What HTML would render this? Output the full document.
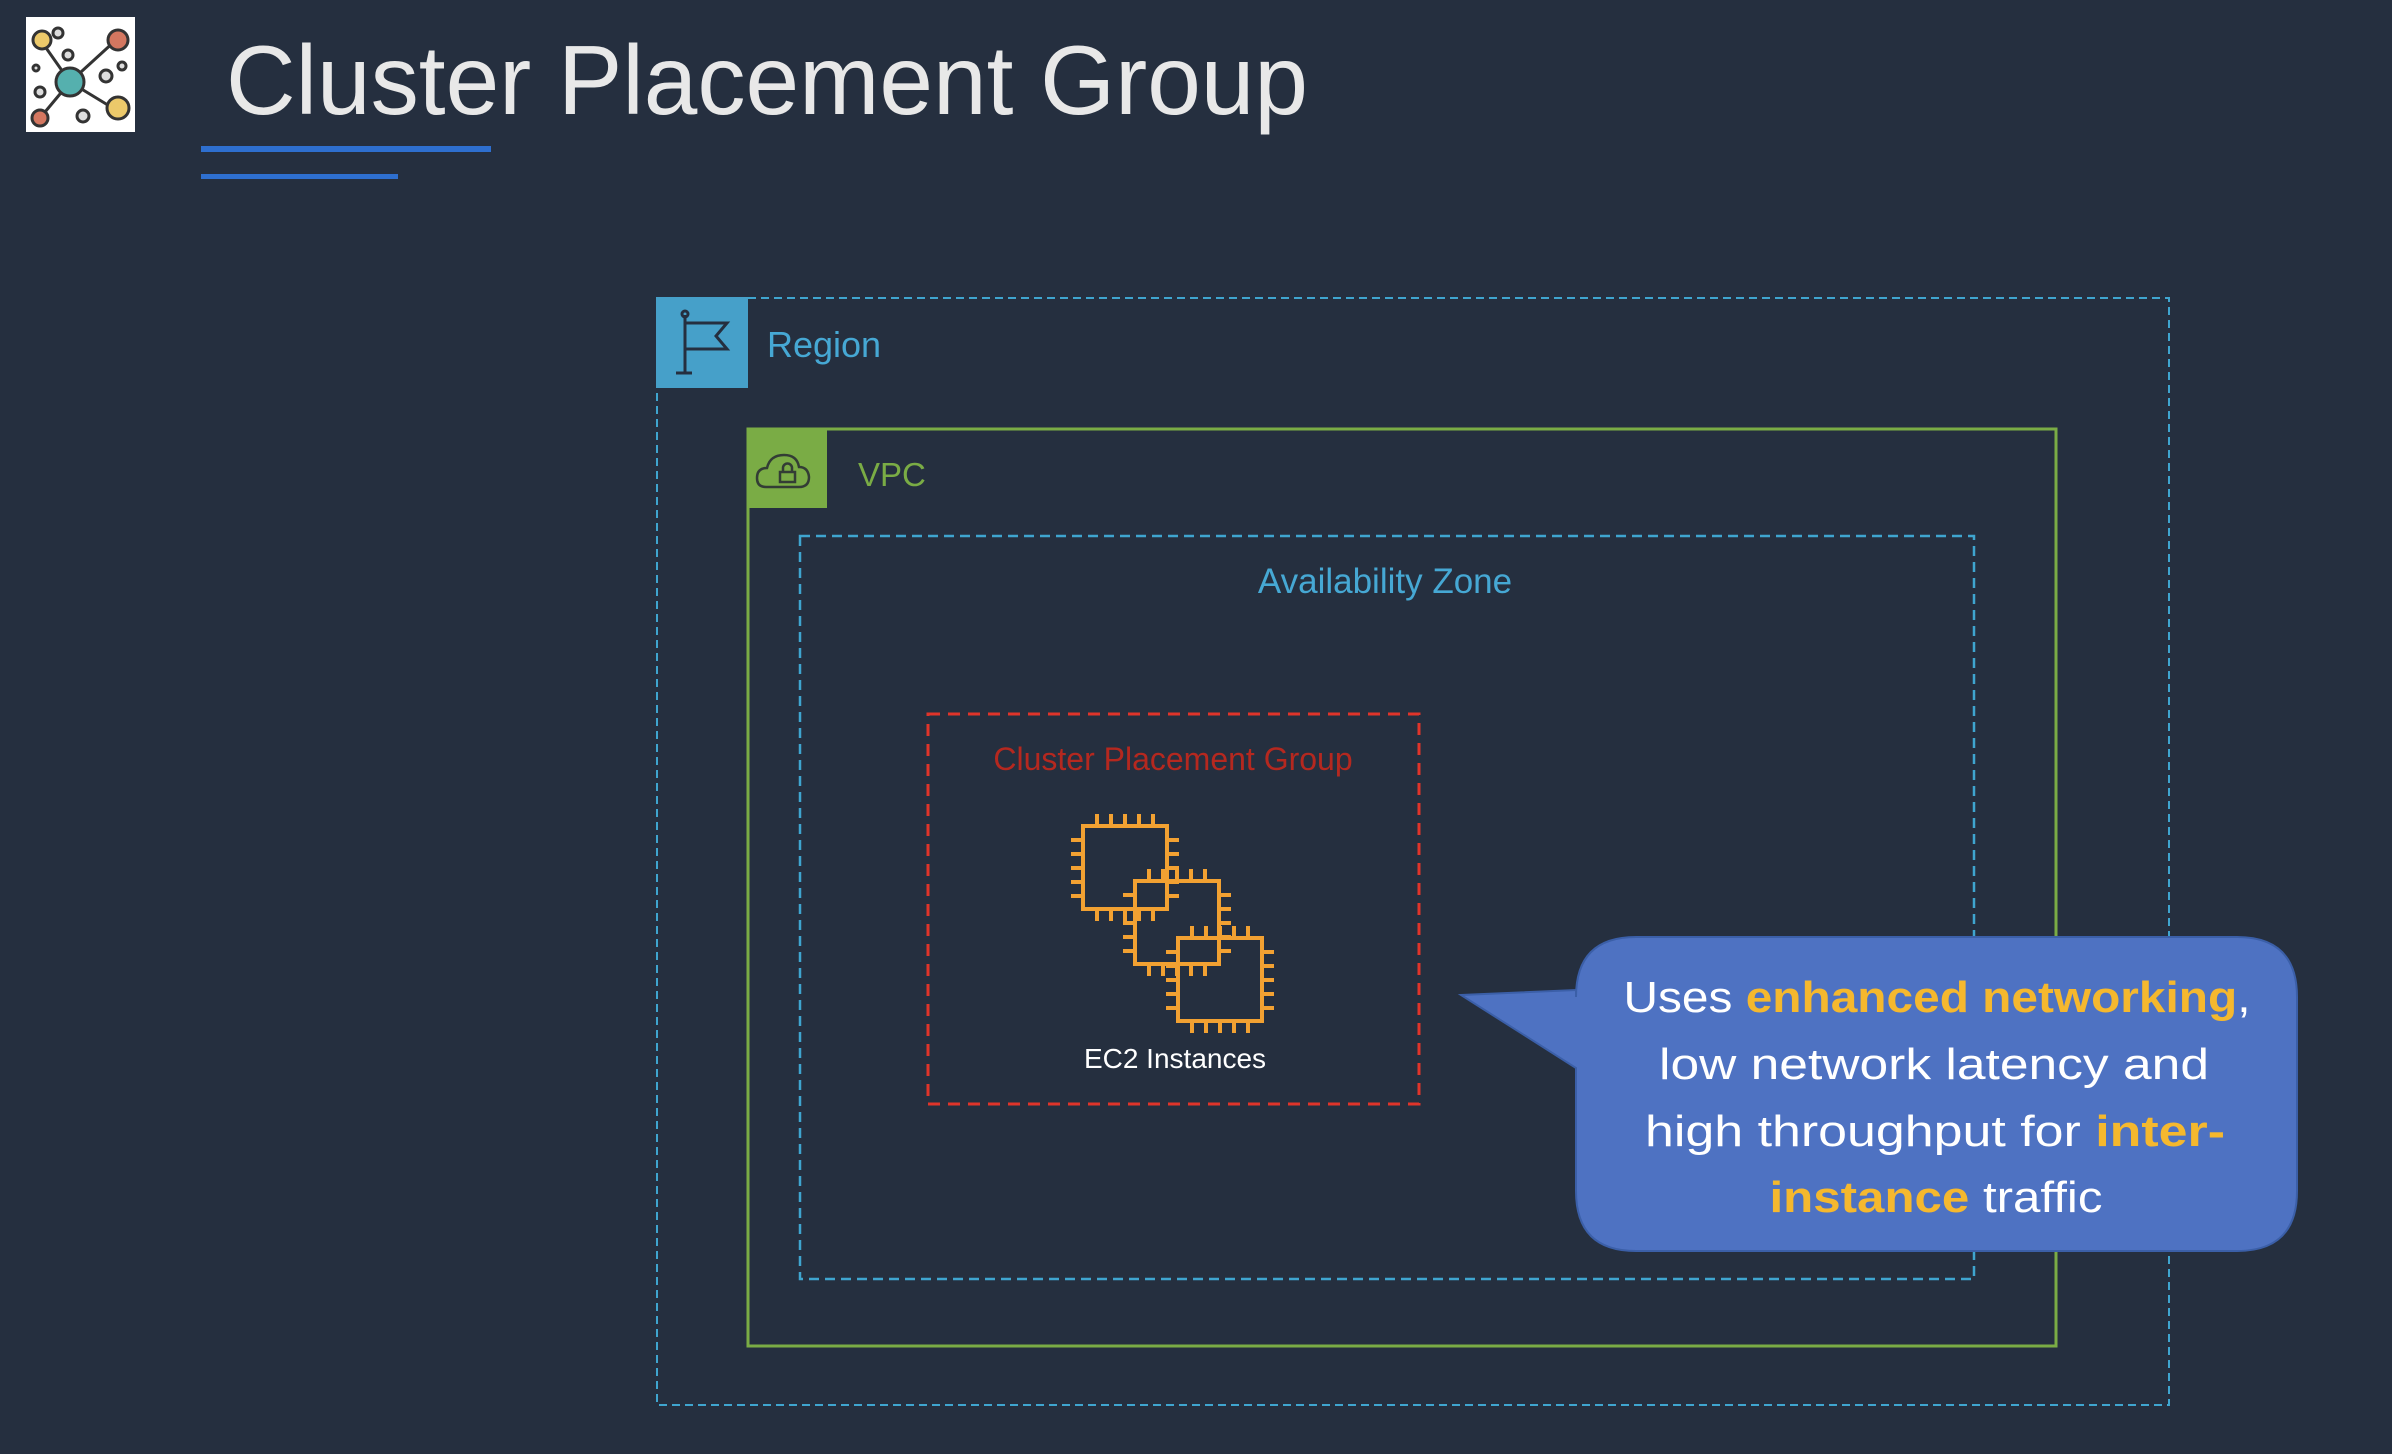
<!DOCTYPE html>
<html><head><meta charset="utf-8"><style>
html,body{margin:0;padding:0;background:#252f3f;}
svg{display:block}
</style></head><body>
<svg width="2392" height="1454" viewBox="0 0 2392 1454" xmlns="http://www.w3.org/2000/svg">
<rect width="2392" height="1454" fill="#252f3f"/>
<!-- logo -->
<rect x="26" y="17" width="109" height="115" fill="#fff"/>
<g stroke="#333" stroke-width="3">
<line x1="70" y1="82" x2="44" y2="45"/><line x1="70" y1="82" x2="116" y2="40"/><line x1="70" y1="82" x2="116" y2="110"/><line x1="70" y1="82" x2="40" y2="118"/>
<circle cx="70" cy="82" r="14" fill="#55b0ae"/>
<circle cx="42" cy="40" r="9" fill="#ecc96a"/><circle cx="118" cy="40" r="10" fill="#d47760"/>
<circle cx="118" cy="108" r="11" fill="#ecc96a"/><circle cx="40" cy="118" r="8" fill="#d47760"/>
<circle cx="58" cy="33" r="5" fill="#ddd"/><circle cx="68" cy="55" r="5" fill="#ddd"/><circle cx="36" cy="68" r="3" fill="#ddd"/>
<circle cx="40" cy="92" r="5" fill="#ddd"/><circle cx="106" cy="76" r="6" fill="#ddd"/><circle cx="122" cy="66" r="4" fill="#ddd"/><circle cx="83" cy="116" r="6" fill="#ddd"/>
</g>
<text x="226" y="114" font-family="Liberation Sans, sans-serif" font-size="98" fill="#e8e8e8" textLength="1082" lengthAdjust="spacingAndGlyphs">Cluster Placement Group</text>
<rect x="201" y="146" width="290" height="6" fill="#2e6fcf"/>
<rect x="201" y="174" width="197" height="5" fill="#2e6fcf"/>
<!-- Region -->
<rect x="657" y="298" width="1512" height="1107" fill="none" stroke="#3fa5cf" stroke-width="2" stroke-dasharray="8,5"/>
<rect x="656" y="297" width="92" height="91" fill="#46a0c9"/>
<g stroke="#252f3f" stroke-width="3" fill="none">
<line x1="685" y1="315" x2="685" y2="372"/><line x1="676" y1="373" x2="692" y2="373"/>
<path d="M685 323 H727 L716 336 L727 349 H685"/><circle cx="685" cy="314" r="3"/>
</g>
<text x="767" y="357" font-family="Liberation Sans, sans-serif" font-size="36" fill="#46a8d4">Region</text>
<!-- VPC -->
<rect x="748" y="429" width="1308" height="917" fill="none" stroke="#7aac45" stroke-width="3"/>
<rect x="747" y="428" width="80" height="80" fill="#7aac45"/>
<g stroke="#333d35" stroke-width="2.5" fill="none">
<path d="M766 487 Q757 487 757 478 Q757 468 767 468 Q770 455 784 455 Q797 455 799 467 Q808 467 809 477 Q809 487 799 487 Z"/>
<rect x="780" y="472" width="15" height="10"/><path d="M783 472 v-4 a4.5 4.5 0 0 1 9 0 v4"/>
</g>
<text x="858" y="486" font-family="Liberation Sans, sans-serif" font-size="33" fill="#7aac45">VPC</text>
<!-- AZ -->
<rect x="800" y="536" width="1174" height="743" fill="none" stroke="#3fa5cf" stroke-width="2.5" stroke-dasharray="10,6"/>
<text x="1385" y="593" text-anchor="middle" font-family="Liberation Sans, sans-serif" font-size="35" fill="#46a8d4">Availability Zone</text>
<!-- CPG -->
<rect x="928" y="714" width="491" height="390" fill="none" stroke="#e0342a" stroke-width="3" stroke-dasharray="12,8"/>
<text x="1173" y="770" text-anchor="middle" font-family="Liberation Sans, sans-serif" font-size="32" fill="#b5281f">Cluster Placement Group</text>
<defs>
<g id="chip" stroke="#f2a132" stroke-width="4" fill="none">
<rect x="0" y="0" width="84" height="83"/>
<path d="M14 0v-12M28 0v-12M42 0v-12M56 0v-12M70 0v-12 M14 83v12M28 83v12M42 83v12M56 83v12M70 83v12 M0 14h-12M0 28h-12M0 42h-12M0 56h-12M0 70h-12 M84 14h12M84 28h12M84 42h12M84 56h12M84 70h12"/>
</g>
</defs>
<use href="#chip" x="1083" y="826"/>
<use href="#chip" x="1135" y="881"/>
<use href="#chip" x="1178" y="938"/>
<text x="1175" y="1068" text-anchor="middle" font-family="Liberation Sans, sans-serif" font-size="28" fill="#fff">EC2 Instances</text>
<!-- callout -->
<path d="M1636 937 H2237 Q2297 937 2297 997 V1191 Q2297 1251 2237 1251 H1636 Q1576 1251 1576 1191 V1068 L1461 995 L1576 990 V997 Q1576 937 1636 937 Z" fill="#4e72c2" stroke="#3b5fa8" stroke-width="2"/>
<g font-family="Liberation Sans, sans-serif" font-size="44" fill="#fff" text-anchor="middle">
<text x="1937" y="1012" textLength="627" lengthAdjust="spacingAndGlyphs">Uses <tspan fill="#f5b82e" font-weight="bold">enhanced networking</tspan>,</text>
<text x="1934" y="1079" textLength="550" lengthAdjust="spacingAndGlyphs">low network latency and</text>
<text x="1935" y="1146" textLength="580" lengthAdjust="spacingAndGlyphs">high throughput for <tspan fill="#f5b82e" font-weight="bold">inter-</tspan></text>
<text x="1936" y="1212" textLength="333" lengthAdjust="spacingAndGlyphs"><tspan fill="#f5b82e" font-weight="bold">instance</tspan> traffic</text>
</g>
</svg>
</body></html>
